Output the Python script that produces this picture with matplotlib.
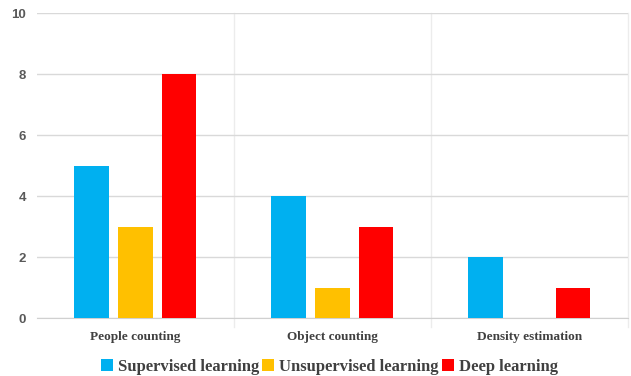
import matplotlib.pyplot as plt
import numpy as np

categories = ["People counting", "Object counting", "Density estimation"]
series = ["Supervised learning", "Unsupervised learning", "Deep learning"]
supervised = [5, 4, 2]
unsupervised = [3, 1, 0]
deep = [8, 3, 1]
colors = ["#00b0f0", "#ffc000", "#ff0000"]

fig = plt.figure(figsize=(6.31, 3.76), dpi=100)
ax = fig.add_axes([0.0586, 0.154, 0.936, 0.811])

x = np.arange(len(categories))
w = 0.175
off = 0.222
for i, (vals, name) in enumerate(zip([supervised, unsupervised, deep], series)):
    ax.bar(x + (i - 1) * off, vals, w, color=colors[i], label=name, zorder=3)

ax.set_xlim(-0.5, 2.5)
ax.set_ylim(0, 10)
ax.set_yticks(range(0, 11, 2))
ax.yaxis.grid(True, color="#d9d9d9", lw=1, zorder=0)
for b in [0.5, 1.5, 2.5]:
    ax.axvline(b, ymin=-0.03, ymax=1, color="#ececec", lw=1, zorder=1, clip_on=False)

for s in ["top", "right", "left"]:
    ax.spines[s].set_visible(False)
ax.spines["bottom"].set_color("#d0d0d0")
ax.tick_params(axis="both", length=0)
ax.set_xticks(x)
ax.set_xticklabels(categories, fontfamily="Liberation Serif", fontweight="bold",
                   fontsize=9.5, color="#404040")
ax.tick_params(axis="x", pad=9)
ax.tick_params(axis="y", pad=8)
for t in ax.get_yticklabels():
    t.set_fontfamily("Liberation Sans")
    t.set_fontweight("bold")
    t.set_fontsize(9.5)
    t.set_color("#595959")

leg = fig.legend(loc="center", bbox_to_anchor=(0.522, 0.025), ncol=3, frameon=False,
                 prop={"family": "Liberation Serif", "weight": "bold", "size": 12},
                 handlelength=0.7, handleheight=0.7, handletextpad=0.3, columnspacing=0.2)
for t in leg.get_texts():
    t.set_color("#404040")

fig.savefig("out.png", dpi=100)
